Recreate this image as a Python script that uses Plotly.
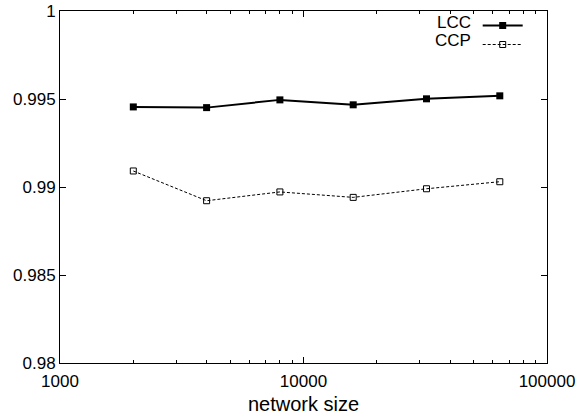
import plotly.graph_objects as go

network_size = [2000, 4000, 8000, 16000, 32000, 64000]
lcc = [0.99455, 0.99451, 0.99495, 0.99467, 0.99501, 0.99518]
ccp = [0.99091, 0.98922, 0.98972, 0.98941, 0.98990, 0.99030]
series_names = ["LCC", "CCP"]
y_ticks = [0.98, 0.985, 0.99, 0.995, 1.0]
y_tick_labels = ["0.98", "0.985", "0.99", "0.995", "1"]
x_ticks = [1000, 10000, 100000]
x_tick_labels = ["1000", "10000", "100000"]
x_minor_ticks = [2000, 3000, 4000, 5000, 6000, 7000, 8000, 9000,
                 20000, 30000, 40000, 50000, 60000, 70000, 80000, 90000]

FONT = "Liberation Sans, Arial, Helvetica, sans-serif"

fig = go.Figure()
fig.add_trace(go.Scatter(
    x=network_size, y=lcc, mode="lines+markers", name=" ",
    line=dict(color="black", width=2),
    marker=dict(symbol="square", size=7, color="black"),
))
fig.add_trace(go.Scatter(
    x=network_size, y=ccp, mode="lines+markers", name="  ",
    line=dict(color="black", width=1, dash="3px,2px"),
    marker=dict(symbol="square-open", size=6, color="black", line=dict(width=1)),
))

axis_common = dict(
    showline=True, linecolor="black", linewidth=1, mirror="allticks",
    ticks="inside", ticklen=6, tickcolor="black", tickwidth=1,
    showgrid=False, zeroline=False, automargin=False,
    tickfont=dict(family=FONT, size=17, color="black"),
)

fig.update_xaxes(
    type="log", range=[3, 5],
    tickvals=x_ticks, ticktext=x_tick_labels,
    ticklabelstandoff=3,
    minor=dict(ticks="inside", ticklen=3, tickcolor="black", showgrid=False,
               tickmode="array", tickvals=x_minor_ticks),
    title=dict(text="network size", font=dict(family=FONT, size=20, color="black"), standoff=6),
    **axis_common,
)
fig.update_yaxes(
    range=[0.98, 1.0],
    tickvals=y_ticks, ticktext=y_tick_labels,
    **axis_common,
)

for i, nm in enumerate(series_names):
    fig.add_annotation(
        xref="paper", yref="paper", x=0.848, y=0.967 - i * 0.052,
        text=nm, showarrow=False, xanchor="right", yanchor="middle",
        font=dict(family=FONT, size=17, color="black"),
    )

fig.update_layout(
    width=580, height=416,
    margin=dict(l=60, r=33, t=11, b=53),
    paper_bgcolor="white", plot_bgcolor="white",
    showlegend=True,
    legend=dict(
        x=0.985, y=1.0, xanchor="right", yanchor="top",
        bgcolor="rgba(0,0,0,0)", borderwidth=0,
        font=dict(family=FONT, size=11), tracegroupgap=0,
        itemwidth=40,
    ),
)

fig.write_html("out.html", config={"displayModeBar": False},
               post_script="document.body.style.margin='0';")
